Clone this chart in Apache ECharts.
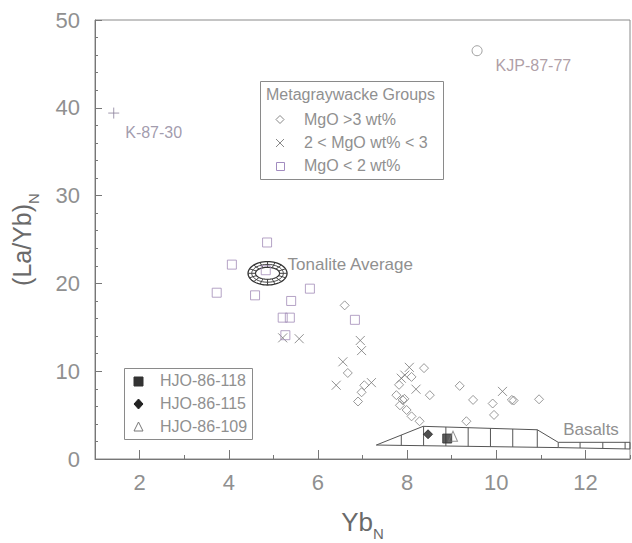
<!DOCTYPE html>
<html>
<head>
<meta charset="utf-8">
<script src="https://cdn.jsdelivr.net/npm/echarts@6/dist/echarts.min.js"></script>
<style>
html,body{margin:0;padding:0;background:#fff;}
#chart{width:632px;height:543px;}
</style>
</head>
<body>
<div id="chart"></div>
<script>
// ---------- data ----------
const xTickLabels = [2, 4, 6, 8, 10, 12];
const yTickLabels = [0, 10, 20, 30, 40, 50];

// Metagraywacke, MgO > 3 wt%  (diamonds)
const highMgX = [6.6, 6.67, 6.98, 6.9, 7.04, 8.38, 8.1, 7.82, 7.76, 7.9, 7.94, 7.84, 7.99, 8.1, 8.28, 8.51, 9.18, 9.48, 9.92, 9.95, 9.33, 10.35, 10.39, 10.96];
const highMgY = [17.5, 9.8, 7.6, 6.55, 8.4, 10.35, 9.35, 8.45, 7.27, 6.72, 6.85, 6.12, 5.58, 4.86, 4.3, 7.27, 8.33, 6.73, 6.32, 5.02, 4.3, 6.73, 6.66, 6.8];
// 2 < MgO wt% < 3 (crosses)
const midMgX = [5.21, 5.58, 6.95, 6.98, 6.56, 6.41, 7.2, 8.05, 7.87, 7.95, 8.2, 10.14];
const midMgY = [13.8, 13.7, 13.5, 12.35, 11.07, 8.4, 8.7, 10.44, 9.2, 9.55, 7.95, 7.7];
// MgO < 2 wt% (squares)
const lowMgX = [4.86, 4.07, 4.83, 3.73, 4.59, 5.82, 5.4, 5.21, 5.37, 6.83, 5.27];
const lowMgY = [24.66, 22.14, 21.5, 18.94, 18.64, 19.4, 18.0, 16.1, 16.1, 15.85, 14.1];

// labelled single samples
const k8730 = [1.42, 39.4];
const kjp8777 = [9.57, 46.5];
const hjo118 = [8.9, 2.33];
const hjo115 = [8.47, 2.82];
const hjo109 = [9.03, 2.6];

// Tonalite average
const tonaliteAvg = [4.87, 21.15];

// Basalts field outline
const basaltTopX = [7.31, 8.36, 10.92, 11.39, 13];
const basaltTopY = [1.59, 3.72, 3.33, 1.9, 1.9];
const basaltBottomX = [7.31, 11.39, 13];
const basaltBottomY = [1.59, 1.3, 1.14];
const basaltHatchX = [7.87, 8.37, 8.87, 9.37, 9.87, 10.37, 10.92, 11.39, 11.88, 12.39, 12.89];
const basaltLabelAt = [11.5, 3.38];

// ---------- helpers ----------
const FONT = "'Liberation Sans', Arial, sans-serif";
const TXT = '#909090';
const pairs = (xs, ys) => xs.map((x, i) => [x, ys[i]]);
function interp(xs, ys, x) {
  for (let i = 0; i < xs.length - 1; i++) {
    if (x >= xs[i] && x <= xs[i + 1]) {
      const t = (x - xs[i]) / (xs[i + 1] - xs[i]);
      return ys[i] + t * (ys[i + 1] - ys[i]);
    }
  }
  return ys[ys.length - 1];
}

const chart = echarts.init(document.getElementById('chart'), null, {renderer: 'svg'});

const hollow = (c) => ({color: 'rgba(0,0,0,0)', borderColor: c, borderWidth: 1});
const CROSS = 'path://M0,0L10,10M10,0L0,10';
const PLUS = 'path://M5,0L5,10M0,5L10,5';

// legend graphics
function legendText(x, y, t) {
  return {type: 'text', left: x, top: y - 9, style: {text: t, fill: TXT, font: '16px ' + FONT}};
}
const graphics = [
  {type: 'rect', shape: {x: 260.5, y: 81.5, width: 183, height: 98}, style: {fill: 'none', stroke: '#8a8a8a', lineWidth: 1}},
  legendText(266, 95, 'Metagraywacke Groups'),
  {type: 'polygon', shape: {points: [[280, 115.5], [284, 119.5], [280, 123.5], [276, 119.5]]}, style: {fill: 'none', stroke: '#888', lineWidth: 1}},
  legendText(304, 120, 'MgO >3 wt%'),
  {type: 'polyline', shape: {points: [[276, 139], [284, 147]]}, style: {stroke: '#888', lineWidth: 1}},
  {type: 'polyline', shape: {points: [[284, 139], [276, 147]]}, style: {stroke: '#888', lineWidth: 1}},
  legendText(304, 143, '2 < MgO wt% < 3'),
  {type: 'rect', shape: {x: 276.5, y: 162.5, width: 8, height: 8}, style: {fill: 'none', stroke: '#a28cc0', lineWidth: 1}},
  legendText(304, 166, 'MgO < 2 wt%'),

  {type: 'rect', shape: {x: 124.5, y: 368.5, width: 128, height: 71}, style: {fill: 'none', stroke: '#8a8a8a', lineWidth: 1}},
  {type: 'rect', shape: {x: 134, y: 377, width: 9, height: 9}, style: {fill: '#333', stroke: '#333'}},
  legendText(160, 381, 'HJO-86-118'),
  {type: 'polygon', shape: {points: [[138.5, 399], [143, 404], [138.5, 409], [134, 404]]}, style: {fill: '#222', stroke: '#222'}},
  legendText(160, 404, 'HJO-86-115'),
  {type: 'polygon', shape: {points: [[138.5, 422], [143, 431], [134, 431]]}, style: {fill: 'none', stroke: '#777', lineWidth: 1}},
  legendText(160, 427, 'HJO-86-109')
];

const nameRich = (big) => ({
  a: {fontSize: big, lineHeight: 26, verticalAlign: 'top', color: '#6a6a6a', fontFamily: FONT},
  s: {fontSize: 15, lineHeight: 32, verticalAlign: 'bottom', color: '#6a6a6a', fontFamily: FONT}
});

const option = {
  animation: false,
  backgroundColor: '#fff',
  textStyle: {fontFamily: FONT},
  grid: {left: 95, right: 2, top: 20, bottom: 84, containLabel: false, outerBoundsMode: 'none',
         show: true, borderColor: '#8a8a8a', borderWidth: 1},
  xAxis: [
    {
      type: 'value', min: 1, max: 13, interval: 1,
      axisLine: {show: true, lineStyle: {color: '#777'}},
      axisTick: {show: true, inside: true, length: 4, lineStyle: {color: '#777'}},
      axisLabel: {show: false},
      splitLine: {show: false},
      name: '{a|Yb}{s|N}', nameLocation: 'middle', nameGap: 50,
      nameTextStyle: {color: '#6a6a6a', rich: nameRich(26)}
    },
    {
      type: 'value', min: 1, max: 13, position: 'bottom',
      axisLine: {show: false},
      axisTick: {show: true, inside: true, length: 9, customValues: xTickLabels, lineStyle: {color: '#777'}},
      axisLabel: {show: true, customValues: xTickLabels, fontSize: 22, color: TXT, margin: 12, fontFamily: FONT},
      splitLine: {show: false}
    }
  ],
  yAxis: [
    {
      type: 'value', min: 0, max: 50, interval: 2,
      axisLine: {show: true, lineStyle: {color: '#777'}},
      axisTick: {show: true, inside: true, length: 3, lineStyle: {color: '#777'}},
      axisLabel: {show: false},
      splitLine: {show: false},
      name: '{a|(La/Yb)}{s|N}', nameLocation: 'middle', nameGap: 54, nameRotate: 90,
      nameTextStyle: {color: '#6a6a6a', rich: nameRich(25)}
    },
    {
      type: 'value', min: 0, max: 50, position: 'left',
      axisLine: {show: false},
      axisTick: {show: true, inside: true, length: 7, customValues: yTickLabels, lineStyle: {color: '#777'}},
      axisLabel: {show: true, customValues: yTickLabels, fontSize: 22, color: TXT, margin: 15, fontFamily: FONT},
      splitLine: {show: false}
    }
  ],
  graphic: graphics,
  series: [
    {
      name: 'Basalts', type: 'custom', xAxisIndex: 0, yAxisIndex: 0, clip: false, silent: true,
      data: [[basaltLabelAt[0], basaltLabelAt[1]]],
      renderItem: function (params, api) {
        const pts = [];
        basaltTopX.forEach((x, i) => pts.push(api.coord([x, basaltTopY[i]])));
        for (let i = basaltBottomX.length - 1; i >= 0; i--) pts.push(api.coord([basaltBottomX[i], basaltBottomY[i]]));
        const children = [{type: 'polygon', shape: {points: pts}, style: {fill: 'none', stroke: '#555', lineWidth: 1}}];
        basaltHatchX.forEach(x => {
          const t = api.coord([x, interp(basaltTopX, basaltTopY, x)]);
          const b = api.coord([x, interp(basaltBottomX, basaltBottomY, x)]);
          children.push({type: 'line', shape: {x1: t[0], y1: t[1], x2: b[0], y2: b[1]}, style: {stroke: '#555', lineWidth: 1}});
        });
        const lp = api.coord([api.value(0), api.value(1)]);
        children.push({type: 'text', x: lp[0], y: lp[1], style: {text: 'Basalts', fill: TXT, font: '17px ' + FONT, align: 'left', verticalAlign: 'middle'}});
        return {type: 'group', children: children};
      }
    },
    {
      name: 'Tonalite Average', type: 'custom', xAxisIndex: 0, yAxisIndex: 0, clip: false, silent: true,
      data: [tonaliteAvg],
      renderItem: function (params, api) {
        const c = api.coord([api.value(0), api.value(1)]);
        const ell = (rx, ry) => {
          const p = [];
          for (let k = 0; k < 60; k++) { const a = k / 60 * Math.PI * 2; p.push([c[0] + rx * Math.cos(a), c[1] + ry * Math.sin(a)]); }
          return p;
        };
        const children = [
          {type: 'polygon', shape: {points: ell(19.5, 11.7)}, style: {fill: 'none', stroke: '#333', lineWidth: 1.3}},
          {type: 'polygon', shape: {points: ell(15.8, 8.9)}, style: {fill: 'none', stroke: '#444', lineWidth: 1}},
          {type: 'polygon', shape: {points: ell(12, 6)}, style: {fill: 'none', stroke: '#333', lineWidth: 1.2}}
        ];
        for (let k = 0; k < 16; k++) {
          const a = k / 16 * Math.PI * 2;
          children.push({type: 'line', shape: {x1: c[0] + 12 * Math.cos(a), y1: c[1] + 6 * Math.sin(a), x2: c[0] + 19.5 * Math.cos(a), y2: c[1] + 11.7 * Math.sin(a)}, style: {stroke: '#444', lineWidth: 1}});
        }
        children.push({type: 'text', x: c[0] + 20, y: c[1] - 9, style: {text: 'Tonalite Average', fill: TXT, font: '17px ' + FONT, align: 'left', verticalAlign: 'middle'}});
        return {type: 'group', children: children};
      }
    },
    {
      name: 'MgO >3 wt%', type: 'scatter', symbol: 'diamond', symbolSize: 9,
      itemStyle: hollow('#7f7f7f'), data: pairs(highMgX, highMgY)
    },
    {
      name: '2 < MgO wt% < 3', type: 'scatter', symbol: CROSS, symbolSize: 9,
      itemStyle: hollow('#777'), data: pairs(midMgX, midMgY)
    },
    {
      name: 'MgO < 2 wt%', type: 'scatter', symbol: 'rect', symbolSize: 9,
      itemStyle: hollow('#a28cb8'), data: pairs(lowMgX, lowMgY)
    },
    {
      name: 'K-87-30', type: 'scatter', symbol: PLUS, symbolSize: 11,
      itemStyle: hollow('#8a7f9a'), data: [k8730],
      label: {show: true, formatter: 'K-87-30', position: 'right', distance: 0, offset: [5.5, 19], color: '#8a8298', fontSize: 16, fontFamily: FONT}
    },
    {
      name: 'KJP-87-77', type: 'scatter', symbol: 'circle', symbolSize: 10,
      itemStyle: hollow('#888'), data: [kjp8777],
      label: {show: true, formatter: 'KJP-87-77', position: 'right', distance: 0, offset: [13, 15], color: '#9a8690', fontSize: 16, fontFamily: FONT}
    },
    {
      name: 'HJO-86-118', type: 'scatter', symbol: 'rect', symbolSize: 9,
      itemStyle: {color: '#333', borderColor: '#333'}, data: [hjo118]
    },
    {
      name: 'HJO-86-115', type: 'scatter', symbol: 'diamond', symbolSize: 9,
      itemStyle: {color: '#222', borderColor: '#222'}, data: [hjo115]
    },
    {
      name: 'HJO-86-109', type: 'scatter', symbol: 'triangle', symbolSize: [9, 10],
      itemStyle: hollow('#777'), data: [hjo109]
    }
  ]
};
chart.setOption(option);
</script>
</body>
</html>
